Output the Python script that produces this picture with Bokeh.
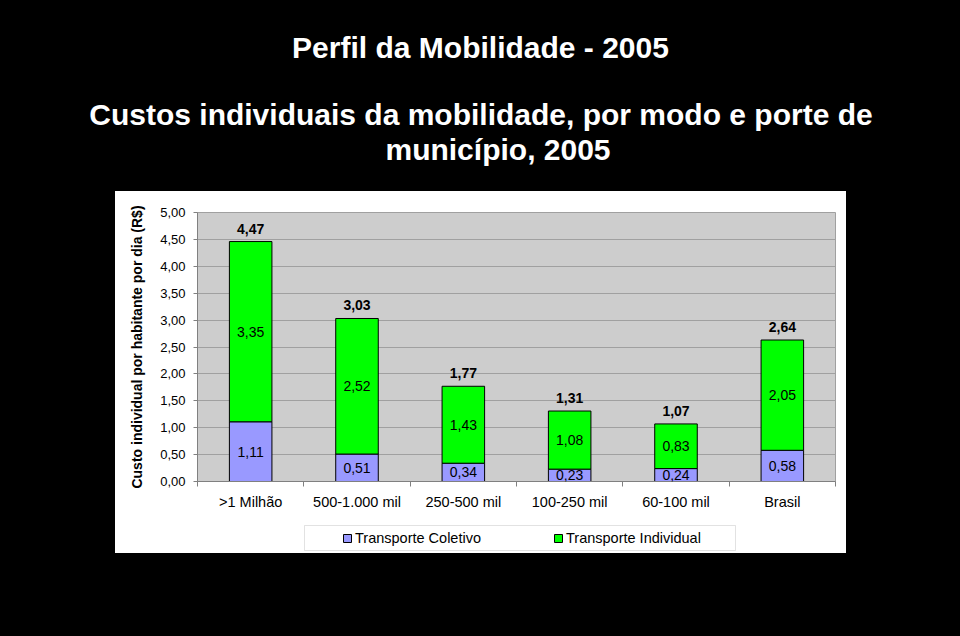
from bokeh.plotting import figure
from bokeh.models import (ColumnDataSource, Range1d, FixedTicker, CustomJSTickFormatter,
                          LabelSet, Legend, LegendItem, Label, Spacer, BoxAnnotation)
from bokeh.layouts import column, row
from bokeh.core.properties import value
from bokeh.embed import file_html
from bokeh.resources import INLINE

# ---------------- data ----------------
categorias = [">1 Milhão", "500-1.000 mil", "250-500 mil", "100-250 mil", "60-100 mil", "Brasil"]
transporte_coletivo = [1.11, 0.51, 0.34, 0.23, 0.24, 0.58]
transporte_individual = [3.35, 2.52, 1.43, 1.08, 0.83, 2.05]
totais = [4.47, 3.03, 1.77, 1.31, 1.07, 2.64]
y_ticks = [0.0, 0.5, 1.0, 1.5, 2.0, 2.5, 3.0, 3.5, 4.0, 4.5, 5.0]
series = ["Transporte Coletivo", "Transporte Individual"]
titulo = "Perfil da Mobilidade - 2005"
subtitulo = ["Custos individuais da mobilidade, por modo e porte de", "município, 2005"]
y_label = "Custo individual por habitante por dia (R$)"

FONT = "Liberation Sans"
BLUE = "#9999ff"
GREEN = "#00ff00"
COLORS = [BLUE, GREEN]


def fmt(v):
    return f"{v:.2f}".replace(".", ",")


n = len(categorias)
xs = [i + 0.5 for i in range(n)]
src = ColumnDataSource(dict(
    x=xs,
    coletivo=transporte_coletivo,
    individual=transporte_individual,
    y_col=[c / 2 for c in transporte_coletivo],
    y_ind=[c + v / 2 for c, v in zip(transporte_coletivo, transporte_individual)],
    y_top=[c + v for c, v in zip(transporte_coletivo, transporte_individual)],
    t_col=[fmt(c) for c in transporte_coletivo],
    t_ind=[fmt(v) for v in transporte_individual],
    t_tot=[fmt(t) for t in totais],
))

# ---------------- main chart ----------------
p = figure(width=731, height=325, x_range=Range1d(0, n), y_range=Range1d(0, 5),
           output_backend="svg", toolbar_location=None,
           min_border_left=82, min_border_right=11, min_border_top=21, min_border_bottom=35,
           background_fill_color="#cdcdcd", border_fill_color="white",
           outline_line_color="#a0a0a0")

rs = p.vbar_stack(["coletivo", "individual"], x="x", width=0.4, source=src,
                  fill_color=COLORS, line_color="black", line_width=1)

# x axis
p.xaxis.ticker = FixedTicker(ticks=xs, minor_ticks=list(range(n + 1)))
p.xaxis.major_label_overrides = {x: c for x, c in zip(xs, categorias)}
p.xaxis.major_tick_out = 0
p.xaxis.major_tick_in = 0
p.xaxis.minor_tick_out = 5
p.xaxis.minor_tick_in = 0
p.xaxis.minor_tick_line_color = "#808080"
p.xaxis.axis_line_color = "#808080"
p.xaxis.major_label_standoff = 7
p.xaxis.major_label_text_font = FONT
p.xaxis.major_label_text_font_size = "14.5px"
p.xaxis.major_label_text_color = "black"
p.xgrid.visible = False

# y axis
p.yaxis.ticker = FixedTicker(ticks=y_ticks, minor_ticks=[])
p.yaxis.formatter = CustomJSTickFormatter(code="return tick.toFixed(2).replace('.', ',');")
p.yaxis.major_tick_out = 4
p.yaxis.major_tick_in = 0
p.yaxis.minor_tick_out = 0
p.yaxis.minor_tick_in = 0
p.yaxis.major_tick_line_color = "#808080"
p.yaxis.axis_line_color = "#808080"
p.yaxis.major_label_standoff = 8
p.yaxis.major_label_text_font = FONT
p.yaxis.major_label_text_font_size = "13px"
p.yaxis.major_label_text_color = "black"
p.yaxis.axis_label = y_label
p.yaxis.axis_label_text_font = FONT
p.yaxis.axis_label_text_font_style = "bold"
p.yaxis.axis_label_text_font_size = "14px"
p.yaxis.axis_label_text_color = "black"
p.yaxis.axis_label_standoff = 12
p.ygrid.grid_line_color = "#a0a0a0"
p.ygrid.grid_line_width = 1

# value labels
common = dict(source=src, x="x", text_align="center", text_baseline="middle",
              text_font=value(FONT), text_font_size=value("14px"), text_color="black")
p.add_layout(LabelSet(y="y_col", text="t_col", **common))
p.add_layout(LabelSet(y="y_ind", text="t_ind", **common))
p.add_layout(LabelSet(y="y_top", text="t_tot", y_offset=13, text_font_style="bold",
                      **common))

# ---------------- legend strip (white, under the chart) ----------------
lf = figure(width=731, height=37, x_range=Range1d(0, 638), y_range=Range1d(0, 37),
            output_backend="svg", toolbar_location=None,
            min_border_left=82, min_border_right=11, min_border_top=0, min_border_bottom=0,
            x_axis_location=None, y_axis_location=None,
            background_fill_color="white", border_fill_color="white",
            outline_line_color=None)
lf.grid.visible = False
# hidden copies of the two series, used only to draw the legend keys
keys = lf.vbar_stack(["coletivo", "individual"], x="x", width=0.4, source=src,
                     fill_color=COLORS, line_color="black", line_width=1, visible=False)
lf.add_layout(BoxAnnotation(left=107, right=538, bottom=3, top=28,
                            fill_color="white", fill_alpha=1,
                            line_color="#a0a0a0", line_width=1, level="annotation"))
legend = Legend(items=[LegendItem(label=s, renderers=[r]) for s, r in zip(series, keys)],
                orientation="horizontal", location=(141, 3), margin=0, padding=4,
                spacing=33, glyph_width=10, glyph_height=10, label_standoff=3,
                label_width=165, label_height=15,
                border_line_alpha=0, background_fill_alpha=0,
                inactive_fill_alpha=0,
                label_text_font=FONT, label_text_font_size="14.5px",
                label_text_color="black")
lf.add_layout(legend)

# ---------------- title block ----------------
t = figure(width=960, height=191, x_range=Range1d(0, 960), y_range=Range1d(191, 0),
           output_backend="svg", toolbar_location=None, min_border=0,
           x_axis_location=None, y_axis_location=None,
           background_fill_color="black", border_fill_color="black",
           outline_line_color=None)
t.grid.visible = False
tstyle = dict(text_align="center", text_baseline="alphabetic", text_color="white",
              text_font=FONT, text_font_style="bold", text_font_size="30px")
t.add_layout(Label(x=480, y=47, text=titulo, **tstyle))
t.add_layout(Label(x=480.5, y=114, text=subtitulo[0], **tstyle))
t.add_layout(Label(x=497.5, y=149, text=subtitulo[1], **tstyle))

black = {"background-color": "#000000"}
white = {"background-color": "#ffffff"}
layout = column(
    t,
    column(
        row(Spacer(width=115, height=325, styles=black), p,
            Spacer(width=114, height=325, styles=black), styles=white),
        row(Spacer(width=115, height=37, styles=black), lf,
            Spacer(width=114, height=37, styles=black), styles=white),
        styles=white,
    ),
    Spacer(width=960, height=83, styles=black),
    styles=black,
)

open("out.html", "w").write(file_html(layout, INLINE))
